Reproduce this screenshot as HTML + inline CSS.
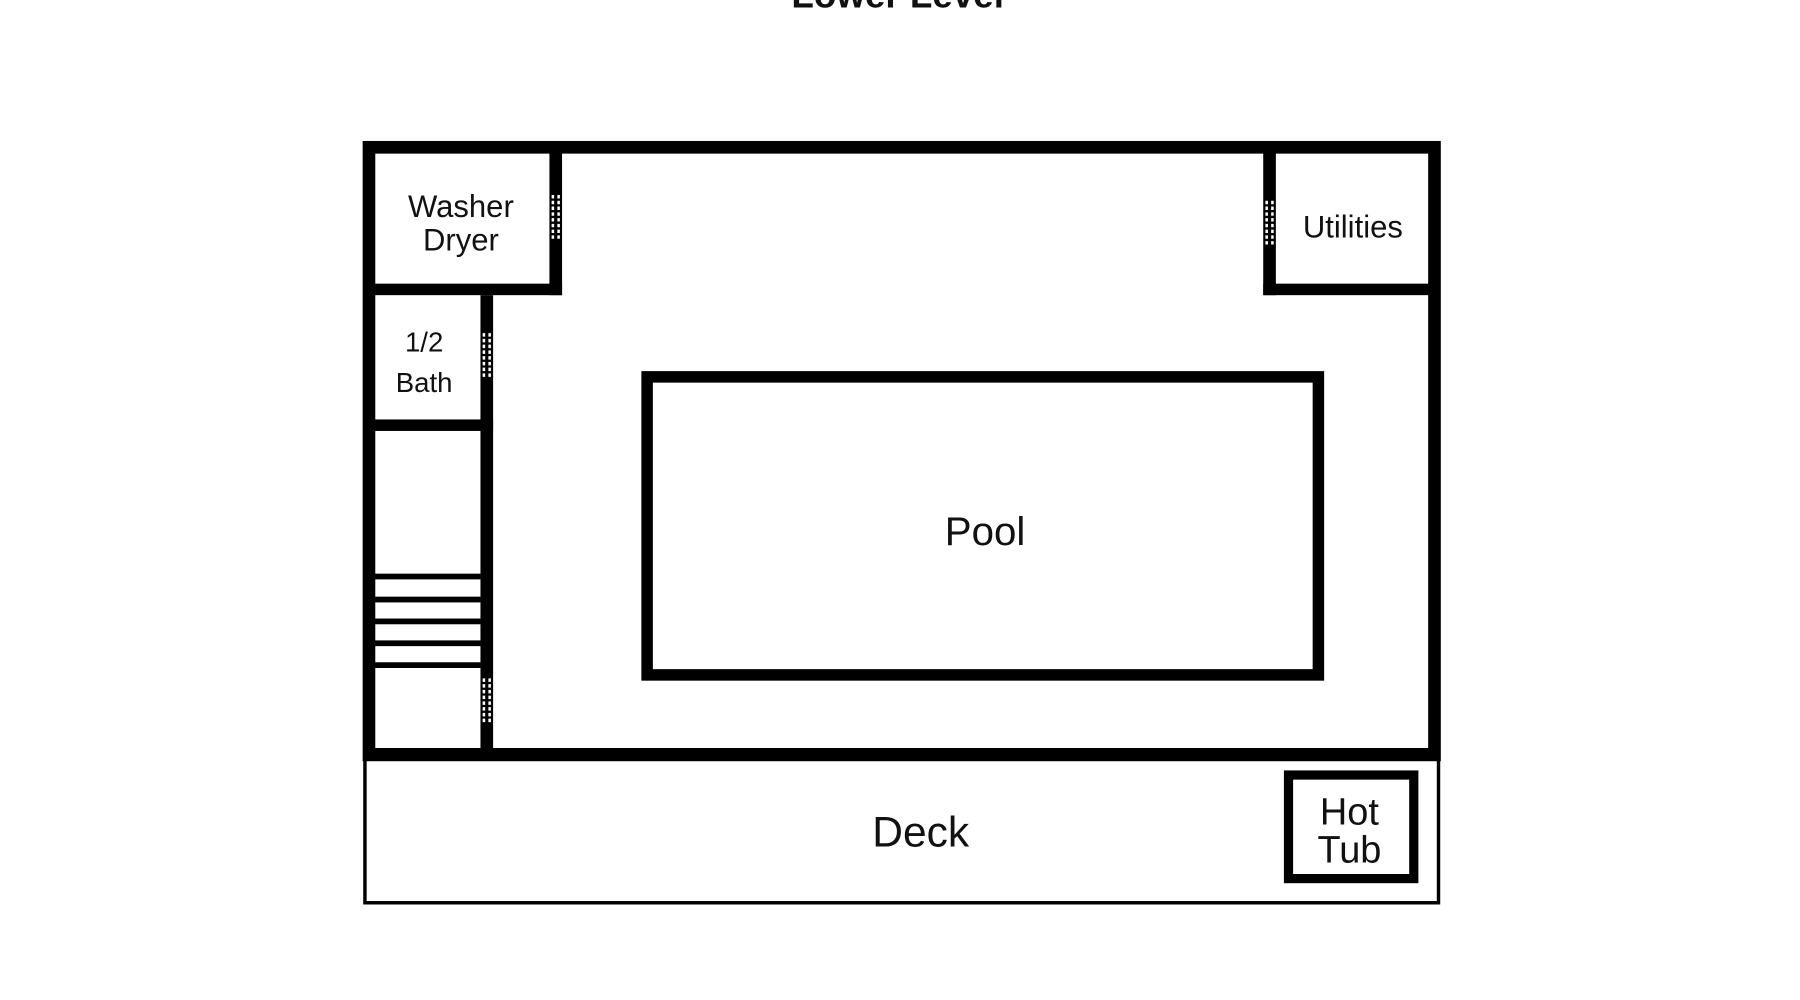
<!DOCTYPE html>
<html><head><meta charset="utf-8"><style>
html,body{margin:0;padding:0;background:#fff;}
svg{display:block}
text{font-family:"Liberation Sans",sans-serif;fill:#111;text-anchor:middle}
</style></head><body>
<svg width="1800" height="1000" viewBox="1 0.5 1566 869" preserveAspectRatio="none" xmlns="http://www.w3.org/2000/svg">
<text x="782" y="7" font-size="32" font-weight="bold">Lower Level</text>
<rect x="318.5" y="652" width="934" height="133" fill="none" stroke="#000" stroke-width="3"/>
<rect x="322" y="128.5" width="927" height="528" fill="none" stroke="#000" stroke-width="11"/>
<rect x="479" y="128" width="11" height="129" fill="#000"/>
<rect x="317" y="247" width="173" height="10" fill="#000"/>
<rect x="1100" y="128" width="11" height="129" fill="#000"/>
<rect x="1100" y="247" width="154" height="10" fill="#000"/>
<rect x="419" y="257" width="11" height="400" fill="#000"/>
<rect x="317" y="365" width="113" height="10" fill="#000"/>
<g fill="#000">
<rect x="327" y="499" width="92" height="5"/>
<rect x="327" y="519" width="92" height="5"/>
<rect x="327" y="538" width="92" height="5"/>
<rect x="327" y="557" width="92" height="5"/>
<rect x="327" y="576" width="92" height="5"/>
</g>
<g stroke="#fff" stroke-width="2.2" stroke-dasharray="3 2">
<line x1="482" y1="170" x2="482" y2="210"/><line x1="487" y1="170" x2="487" y2="210"/>
<line x1="1103" y1="175" x2="1103" y2="213"/><line x1="1108" y1="175" x2="1108" y2="213"/>
<line x1="422" y1="290" x2="422" y2="330"/><line x1="427" y1="290" x2="427" y2="330"/>
<line x1="422" y1="590" x2="422" y2="630"/><line x1="427" y1="590" x2="427" y2="630"/>
</g>
<rect x="564" y="328" width="584" height="259" fill="none" stroke="#000" stroke-width="10"/>
<rect x="1122" y="674" width="109" height="90" fill="none" stroke="#000" stroke-width="8"/>
<text x="402" y="189" font-size="27">Washer</text>
<text x="402" y="218" font-size="27">Dryer</text>
<text x="1178" y="207" font-size="27">Utilities</text>
<text x="370" y="306" font-size="24">1/2</text>
<text x="370" y="341" font-size="24">Bath</text>
<text x="858" y="474" font-size="35">Pool</text>
<text x="802" y="736" font-size="37">Deck</text>
<text x="1175" y="717" font-size="33">Hot</text>
<text x="1175" y="750" font-size="33">Tub</text>
</svg>
</body></html>
